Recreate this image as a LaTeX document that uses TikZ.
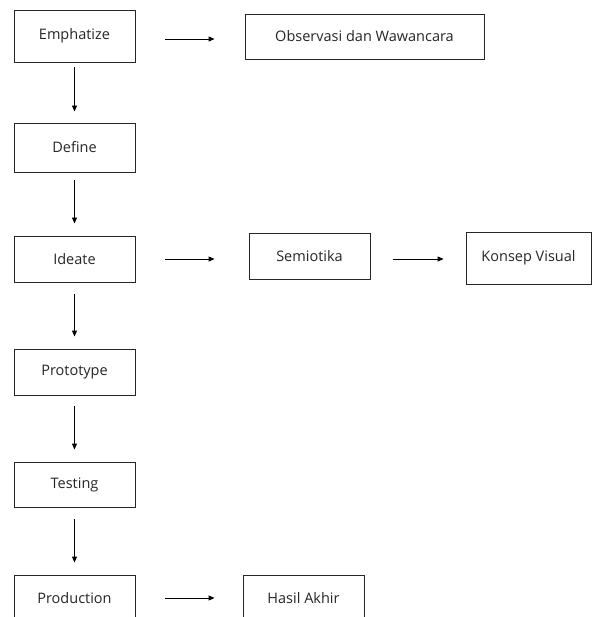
\documentclass[tikz,border=0pt]{standalone}
\usepackage{fontspec}
\setmainfont{Open Sans}
\usetikzlibrary{arrows.meta}
\begin{document}
\begin{tikzpicture}[x=1pt,y=-1pt,
  box/.style={draw=black!85,line width=0.9pt,inner sep=0pt,font=\fontsize{14.5}{17}\selectfont,text=black!85},
  arr/.style={draw=black,line width=0.9pt,-{Triangle[length=6pt,width=5pt]}}]
\clip (0,0) rectangle (593,617);
\fill[white] (0,0) rectangle (593,617);
\node[box,minimum width=121pt,minimum height=52pt] (emp) at (74.5,36) {Emphatize};
\node[box,minimum width=239pt,minimum height=45pt] (obs) at (364.5,36.5) {Observasi dan Wawancara};
\node[box,minimum width=121pt,minimum height=49pt] (def) at (74.5,147.5) {Define};
\node[box,minimum width=121pt,minimum height=46pt] (ide) at (74.5,259) {Ideate};
\node[box,minimum width=121pt,minimum height=46pt] (sem) at (309.5,256) {Semiotika};
\node[box,minimum width=125pt,minimum height=52pt] (kon) at (528.5,258) {Konsep Visual};
\node[box,minimum width=121pt,minimum height=46pt] (pro) at (74.5,372) {Prototype};
\node[box,minimum width=121pt,minimum height=45pt] (tes) at (74.5,484.5) {Testing};
\node[box,minimum width=121pt,minimum height=46pt] (prd) at (74.5,598) {Production};
\node[box,minimum width=121pt,minimum height=46pt] (has) at (303.5,598) {Hasil Akhir};
\draw[arr,shorten <=30pt,shorten >=30pt] ([yshift=-3pt]emp.east) -- ([yshift=-3pt]emp.east -| obs.west);
\draw[arr,shorten <=5pt,shorten >=11pt] (emp.south) -- (def.north);
\draw[arr,shorten <=8pt,shorten >=12pt] (def.south) -- (ide.north);
\draw[arr,shorten <=30pt,shorten >=34pt] (ide.east) -- (ide.east -| sem.west);
\draw[arr,shorten <=23pt,shorten >=22pt] ([yshift=-3pt]sem.east) -- ([yshift=-3pt]sem.east -| kon.west);
\draw[arr,shorten <=12pt,shorten >=12pt] (ide.south) -- (pro.north);
\draw[arr,shorten <=11pt,shorten >=12pt] (pro.south) -- (tes.north);
\draw[arr,shorten <=12pt,shorten >=12pt] (tes.south) -- (prd.north);
\draw[arr,shorten <=30pt,shorten >=28pt] (prd.east) -- (has.west);
\end{tikzpicture}
\end{document}
